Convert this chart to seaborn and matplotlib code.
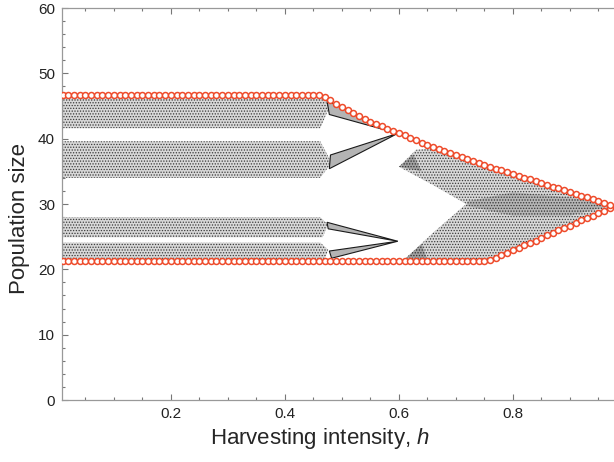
import numpy as np
import pandas as pd
import matplotlib
matplotlib.use("Agg")
import matplotlib.pyplot as plt
from matplotlib.patches import Polygon
from matplotlib.ticker import MultipleLocator
import seaborn as sns

# ---------------- data ----------------
h_values = [round(0.01 * i, 2) for i in range(1, 98)]  # 0.01 ... 0.97

upper_env = [
    46.7, 46.7, 46.7, 46.7, 46.7, 46.7, 46.7, 46.7, 46.7, 46.7,   # 0.01-0.10
    46.7, 46.7, 46.7, 46.7, 46.7, 46.7, 46.7, 46.7, 46.7, 46.7,   # 0.11-0.20
    46.7, 46.7, 46.7, 46.7, 46.7, 46.7, 46.7, 46.7, 46.7, 46.7,   # 0.21-0.30
    46.7, 46.7, 46.7, 46.7, 46.7, 46.7, 46.7, 46.7, 46.7, 46.7,   # 0.31-0.40
    46.7, 46.7, 46.7, 46.7, 46.7, 46.7, 46.4, 45.9, 45.3, 44.8,   # 0.41-0.50
    44.4, 43.9, 43.5, 43.0, 42.6, 42.2, 41.9, 41.5, 41.2, 40.8,   # 0.51-0.60
    40.5, 40.1, 39.8, 39.4, 39.1, 38.8, 38.4, 38.1, 37.8, 37.5,   # 0.61-0.70
    37.2, 36.9, 36.6, 36.3, 36.0, 35.7, 35.4, 35.2, 34.9, 34.6,   # 0.71-0.80
    34.3, 34.0, 33.8, 33.5, 33.2, 32.9, 32.6, 32.4, 32.1, 31.8,   # 0.81-0.90
    31.5, 31.3, 31.0, 30.8, 30.5, 30.2, 29.9,                     # 0.91-0.97
]

lower_env = [
    21.3, 21.3, 21.3, 21.3, 21.3, 21.3, 21.3, 21.3, 21.3, 21.3,   # 0.01-0.10
    21.3, 21.3, 21.3, 21.3, 21.3, 21.3, 21.3, 21.3, 21.3, 21.3,   # 0.11-0.20
    21.3, 21.3, 21.3, 21.3, 21.3, 21.3, 21.3, 21.3, 21.3, 21.3,   # 0.21-0.30
    21.3, 21.3, 21.3, 21.3, 21.3, 21.3, 21.3, 21.3, 21.3, 21.3,   # 0.31-0.40
    21.3, 21.3, 21.3, 21.3, 21.3, 21.3, 21.3, 21.3, 21.3, 21.3,   # 0.41-0.50
    21.3, 21.3, 21.3, 21.3, 21.3, 21.3, 21.3, 21.3, 21.3, 21.3,   # 0.51-0.60
    21.3, 21.3, 21.3, 21.3, 21.3, 21.3, 21.3, 21.3, 21.3, 21.3,   # 0.61-0.70
    21.3, 21.3, 21.3, 21.3, 21.3, 21.5, 21.8, 22.2, 22.5, 22.9,   # 0.71-0.80
    23.3, 23.7, 24.1, 24.4, 24.8, 25.2, 25.6, 26.0, 26.3, 26.7,   # 0.81-0.90
    27.1, 27.5, 27.8, 28.2, 28.6, 29.0, 29.4,                     # 0.91-0.97
]

# Regions covered by the dense cloud of simulated points (h, population)
band1 = [(0.01, 41.6), (0.01, 46.3), (0.468, 46.3), (0.478, 44.8), (0.462, 41.6)]
band2 = [(0.01, 34.0), (0.01, 39.6), (0.462, 39.6), (0.482, 36.3), (0.462, 34.0)]
band3 = [(0.01, 24.9), (0.01, 28.0), (0.462, 28.0), (0.476, 26.8), (0.466, 24.9)]
band4 = [(0.01, 21.6), (0.01, 24.1), (0.462, 24.1), (0.476, 23.0), (0.470, 21.6)]
wedge1 = [(0.474, 45.8), (0.598, 40.8), (0.478, 43.7)]
wedge2 = [(0.480, 37.5), (0.598, 40.8), (0.478, 35.4)]
wedge3 = [(0.474, 27.2), (0.598, 24.3), (0.476, 26.2)]
wedge4 = [(0.478, 22.8), (0.598, 24.3), (0.482, 21.7)]
chaos = [(0.600, 35.7), (0.630, 38.3), (0.660, 38.5), (0.700, 37.3), (0.750, 35.8),
         (0.800, 34.4), (0.850, 33.0), (0.900, 31.6), (0.950, 30.3), (0.975, 29.7),
         (0.950, 28.8), (0.900, 26.9), (0.850, 25.0), (0.800, 23.1), (0.760, 21.6),
         (0.700, 21.5), (0.620, 21.5), (0.612, 21.7), (0.660, 25.6), (0.718, 30.0),
         (0.660, 32.9), (0.600, 35.7)]
chaos_core = [(0.720, 30.4), (0.800, 31.8), (0.900, 31.0), (0.975, 29.8),
              (0.900, 28.2), (0.800, 28.2), (0.720, 29.7)]
tip_upper = [(0.600, 35.7), (0.625, 37.6), (0.640, 35.0)]
tip_lower = [(0.612, 21.7), (0.650, 21.5), (0.640, 23.9)]

# ---------------- figure ----------------
sns.set_style("ticks")
plt.rcParams["font.family"] = ["Liberation Sans", "DejaVu Sans"]
plt.rcParams["mathtext.fontset"] = "custom"
plt.rcParams["mathtext.it"] = "Liberation Sans:italic"
plt.rcParams["mathtext.rm"] = "Liberation Sans"
plt.rcParams["hatch.linewidth"] = 0.6

fig = plt.figure(figsize=(6.14, 4.62), dpi=100)
fig.patch.set_facecolor("white")
AX_W = 600
ax = fig.add_axes([62 / 614, 62 / 462, AX_W / 614, 392 / 462])
ax.patch.set_edgecolor("none")

cloud_kw = dict(facecolor="#d8d8d8", edgecolor="#3a3a3a", hatch="......",
                linewidth=0, zorder=2)
for poly in (band1, band2, band3, band4, chaos):
    ax.add_patch(Polygon(poly, closed=True, **cloud_kw))
ax.add_patch(Polygon(chaos_core, closed=True, facecolor="#a0a0a0", edgecolor="#222222",
                     hatch="......", linewidth=0, alpha=0.6, zorder=2))
for poly in (tip_upper, tip_lower):
    ax.add_patch(Polygon(poly, closed=True, facecolor="#8c8c8c", edgecolor="#222222",
                         hatch="......", linewidth=0, alpha=0.7, zorder=2))
for poly in (wedge1, wedge2, wedge3, wedge4):
    ax.add_patch(Polygon(poly, closed=True, facecolor="#b4b4b4", edgecolor="#1a1a1a",
                         linewidth=0.8, zorder=3))

red = "#EE4B2B"
df = pd.DataFrame({"h": h_values * 2,
                   "pop": upper_env + lower_env,
                   "bound": ["upper"] * len(h_values) + ["lower"] * len(h_values)})
for name, sub in df.groupby("bound"):
    sns.lineplot(data=sub, x="h", y="pop", ax=ax, linestyle="none", marker="o",
                 markersize=4.3, markerfacecolor="white", markeredgecolor=red,
                 markeredgewidth=1.1, color=red, zorder=5, estimator=None)

ax.set_xlim(0.009, 0.009 + AX_W / 570)
ax.set_ylim(0, 60)
ax.xaxis.set_major_locator(MultipleLocator(0.2))
ax.xaxis.set_minor_locator(MultipleLocator(0.05))
ax.yaxis.set_major_locator(MultipleLocator(10))
ax.yaxis.set_minor_locator(MultipleLocator(2))
ax.set_xticks([0.2, 0.4, 0.6, 0.8])
ax.set_xticklabels(["0.2", "0.4", "0.6", "0.8"])
ax.tick_params(which="both", direction="in", top=True, right=False,
               color="#777777", labelsize=11, labelcolor="#222222", width=0.8)
ax.tick_params(which="major", length=4, pad=5)
ax.tick_params(which="minor", length=2)
for s in ax.spines.values():
    s.set_color("#999999")
    s.set_linewidth(0.9)
ax.spines["right"].set_visible(False)

ax.set_xlabel("Harvesting intensity, $h$", fontsize=16)
ax.xaxis.set_label_coords((320 - 62) / AX_W, -(426 - 400) / 392)
ax.set_ylabel("Population size", fontsize=16)
ax.yaxis.set_label_coords(-(62 - 30) / AX_W, (400 - 218) / 392)
ax.grid(False)

fig.savefig("out.png", dpi=100)
